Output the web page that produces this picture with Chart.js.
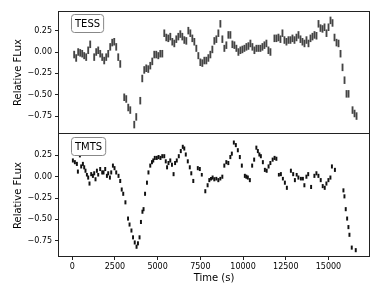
<!DOCTYPE html>
<html>
<head>
<meta charset="utf-8">
<script src="https://cdn.jsdelivr.net/npm/chart.js@4/dist/chart.umd.min.js"></script>
<style>
  html, body { margin: 0; padding: 0; background: #fff; }
  #wrap { width: 390px; height: 293px; }
</style>
</head>
<body>
<div id="wrap"><canvas id="lc" width="390" height="293"></canvas></div>
<script>
// TESS light curve (time in s, relative flux)
const tessTime = [
    117, 234, 352, 469, 586, 703, 820, 938, 1055,
    1289, 1406, 1524, 1641, 1758, 1875, 1992, 2110, 2227, 2344, 2461, 2578, 2696, 2813,
    3047, 3164, 3282, 3399, 3633, 3750,
    3985, 4102, 4219, 4336, 4454, 4571, 4688, 4805, 4922, 5040,
    5157, 5274, 5391, 5508, 5626, 5743, 5860, 5977, 6094, 6212,
    6329, 6446, 6563, 6680, 6798, 6915, 7032, 7149, 7266, 7384,
    7501, 7618, 7735, 7852, 7970, 8087, 8204, 8321, 8438, 8556,
    8673, 8790, 8907, 9024, 9142, 9259, 9376, 9493, 9610, 9728,
    9845, 9962, 10079, 10196, 10314, 10431, 10548, 10665, 10782, 10900,
    11017, 11134, 11251, 11368, 11486, 11603,
    11837, 11954, 12072, 12189, 12306, 12423, 12540, 12658, 12775, 12892,
    13009, 13126, 13244, 13361, 13478, 13595, 13712, 13830, 13947, 14064,
    14181, 14298, 14416, 14533, 14650, 14767, 14884, 15002, 15119, 15236,
    15353, 15470, 15588, 15705, 15822, 15939, 16056, 16174,
    16408, 16525, 16642
];
const tessFlux = [
    -0.03, -0.07, 0.00, -0.01, -0.02, -0.04, -0.06, 0.02, 0.09,
    -0.06, 0.00, 0.02, -0.02, -0.06, -0.10, -0.06, -0.02, 0.06, 0.11, 0.12, 0.06, -0.06, -0.14,
    -0.53, -0.55, -0.65, -0.68, -0.85, -0.76,
    -0.57, -0.31, -0.21, -0.19, -0.20, -0.16, -0.11, -0.03, -0.03, -0.04,
    -0.02, -0.02, 0.22, 0.17, 0.16, 0.18, 0.12, 0.10, 0.15, 0.18,
    0.21, 0.18, 0.14, 0.13, 0.25, 0.22, 0.16, 0.12, 0.04, -0.04,
    -0.12, -0.13, -0.10, -0.10, -0.07, -0.03, 0.03, 0.13, 0.15, 0.22,
    0.33, 0.15, 0.04, 0.08, 0.20, 0.20, 0.09, 0.08, 0.04, 0.00,
    0.02, 0.03, 0.04, 0.06, 0.07, 0.10, 0.06, 0.02, 0.04, 0.04,
    0.04, 0.06, 0.08, 0.10, 0.02, 0.00,
    0.16, 0.16, 0.17, 0.15, 0.22, 0.14, 0.12, 0.14, 0.14, 0.16,
    0.14, 0.17, 0.20, 0.15, 0.12, 0.10, 0.14, 0.10, 0.16, 0.18,
    0.20, 0.19, 0.33, 0.28, 0.27, 0.29, 0.22, 0.29, 0.37, 0.34,
    0.17, 0.11, 0.10, -0.02, -0.18, -0.33, -0.49, -0.49,
    -0.68, -0.72, -0.75
];
const tessErr = 0.04;

// TMTS light curve
const tmtsTime = [
    41, 158, 275, 334, 451, 527, 627, 703, 779, 861,
    937, 1013, 1113, 1213, 1289, 1365, 1447, 1523, 1640, 1757,
    1834, 1933, 2033, 2109, 2208, 2285, 2384, 2478, 2578, 2712,
    2812, 2900, 2988, 3116, 3269, 3357, 3468, 3562, 3661, 3767,
    3849, 3942, 4024, 4112, 4177, 4265, 4376, 4464, 4569, 4669,
    4745, 4833, 4950, 5055, 5167, 5272, 5389, 5477, 5553, 5635,
    5741, 5840, 5934, 6022, 6122, 6239, 6356, 6473, 6561, 6649,
    6766, 6883, 6971, 7088, 7352, 7469, 7586, 7791, 7926, 8025,
    8125, 8219, 8318, 8436, 8553, 8670, 8787, 8904, 9021, 9138,
    9256, 9344, 9461, 9578, 9695, 9812, 9929, 10105, 10193, 10281,
    10398, 10533, 10650, 10779, 10867, 10954, 11042, 11160, 11277, 11382,
    11494, 11599, 11733, 11845, 11950, 12097, 12214, 12331, 12448, 12565,
    12800, 12934, 13034, 13139, 13239, 13386, 13503, 13590, 13708, 13813,
    13983, 14176, 14294, 14411, 14546, 14663, 14780, 14879, 14996, 15113,
    15201, 15377, 15875, 15934, 16010, 16092, 16168, 16227, 16362, 16596
];
const tmtsFlux = [
    0.19, 0.17, 0.15, 0.06, 0.25, 0.12, 0.15, 0.11, 0.07, 0.02,
    -0.01, -0.08, 0.03, 0.01, 0.04, -0.03, 0.07, 0.02, 0.09, 0.05,
    0.05, 0.09, 0.01, 0.04, -0.01, 0.05, 0.13, 0.10, 0.05, 0.01,
    -0.05, -0.15, -0.20, -0.30, -0.49, -0.56, -0.63, -0.71, -0.77, -0.82,
    -0.78, -0.71, -0.53, -0.41, -0.38, -0.20, -0.07, 0.05, 0.13, 0.17,
    0.19, 0.22, 0.22, 0.23, 0.22, 0.24, 0.24, 0.18, 0.11, 0.16,
    0.19, 0.14, 0.03, 0.16, 0.19, 0.24, 0.30, 0.35, 0.33, 0.26,
    0.18, 0.11, 0.04, -0.05, 0.10, 0.09, 0.02, -0.17, -0.10, -0.04,
    -0.02, -0.01, -0.03, -0.02, -0.04, -0.02, 0.00, 0.13, 0.17, 0.16,
    0.23, 0.27, 0.40, 0.37, 0.31, 0.23, 0.13, 0.01, 0.00, -0.01,
    -0.04, 0.13, 0.20, 0.34, 0.30, 0.26, 0.24, 0.17, 0.08, 0.07,
    0.12, 0.16, 0.20, 0.22, 0.21, 0.02, 0.03, -0.02, -0.07, -0.13,
    0.07, 0.03, -0.04, 0.02, -0.01, -0.02, -0.02, -0.10, 0.00, 0.03,
    -0.12, 0.01, 0.04, 0.01, -0.04, -0.11, -0.13, -0.08, -0.04, -0.01,
    0.12, 0.08, -0.16, -0.23, -0.38, -0.49, -0.59, -0.68, -0.83, -0.86
];
const tmtsErr = 0.02;

const panelNames = ['TESS', 'TMTS'];
const xTicks = [0, 2500, 5000, 7500, 10000, 12500, 15000];
const yTicks = [-0.75, -0.5, -0.25, 0, 0.25];

const FONT = 'DejaVu Sans';

function toBars(times, fluxes, err) {
    return times.map((t, i) => ({ x: t, y: [fluxes[i] - err, fluxes[i] + err] }));
}

function fmtY(v) {
    return v.toFixed(2).replace('-', '\u2212');
}

function yScale(min, max) {
    return {
        type: 'linear',
        position: 'left',
        stack: 'lc',
        stackWeight: 1,
        min: min,
        max: max,
        afterBuildTicks: s => { s.ticks = yTicks.map(v => ({ value: v })); },
        afterFit: s => { s.width = 58; },
        border: { display: false },
        grid: { drawOnChartArea: false, drawTicks: true, tickLength: 3, color: '#222', offset: false },
        ticks: { font: { family: FONT, size: 8 }, color: '#000', padding: 3, callback: fmtY },
        title: { display: true, text: 'Relative FLux', font: { family: FONT, size: 10 }, color: '#000', padding: { top: 12, bottom: 0 } }
    };
}

// box around both panels, one divider, and the instrument tag in each corner
const panelFrame = {
    id: 'panelFrame',
    afterDatasetsDraw(chart) {
        const ctx = chart.ctx;
        const area = chart.chartArea;
        const l = Math.round(area.left) + 0.5;
        const r = Math.round(area.right) - 0.5;
        const t = Math.round(area.top) + 0.5;
        const b = Math.round(area.bottom) - 0.5;
        const mid = Math.round(chart.scales.yTop.bottom) - 0.5;
        ctx.save();
        ctx.strokeStyle = '#222';
        ctx.lineWidth = 1;
        ctx.strokeRect(l, t, r - l, b - t);
        ctx.beginPath();
        ctx.moveTo(l, mid);
        ctx.lineTo(r, mid);
        ctx.stroke();

        ['yTop', 'yBot'].forEach((id, i) => {
            const s = chart.scales[id];
            ctx.font = '10px "' + FONT + '"';
            const w = ctx.measureText(panelNames[i]).width + 7;
            const bx = Math.round(area.left + 12.5) + 0.5;
            const by = Math.round(s.top + 3) + 0.5;
            ctx.beginPath();
            ctx.roundRect(bx, by, w, 18, 3);
            ctx.fillStyle = '#fff';
            ctx.fill();
            ctx.strokeStyle = '#888';
            ctx.stroke();
            ctx.fillStyle = '#000';
            ctx.textBaseline = 'middle';
            ctx.fillText(panelNames[i], bx + 3.5, by + 9.5);
        });
        ctx.restore();
    }
};

const ctx = document.getElementById('lc').getContext('2d');

new Chart(ctx, {
    type: 'bar',
    data: {
        datasets: [{
            label: 'TESS',
            data: toBars(tessTime, tessFlux, tessErr),
            yAxisID: 'yTop',
            backgroundColor: '#444',
            borderWidth: 0,
            barThickness: 1.2,
            grouped: false
        }, {
            label: 'TMTS',
            data: toBars(tmtsTime, tmtsFlux, tmtsErr),
            yAxisID: 'yBot',
            backgroundColor: '#111',
            borderWidth: 0,
            barThickness: 1.3,
            grouped: false
        }]
    },
    options: {
        responsive: false,
        devicePixelRatio: 1,
        animation: false,
        layout: { padding: { left: 0, right: 20, top: 11, bottom: 0 } },
        plugins: {
            legend: { display: false },
            tooltip: { enabled: false }
        },
        scales: {
            x: {
                type: 'linear',
                min: -830,
                max: 17430,
                offset: false,
                afterBuildTicks: s => { s.ticks = xTicks.map(v => ({ value: v })); },
                afterFit: s => { s.height = 36; },
                border: { display: false },
                grid: { drawOnChartArea: false, drawTicks: true, tickLength: 3, color: '#222', offset: false },
                ticks: { font: { family: FONT, size: 8 }, color: '#000', padding: 2, maxRotation: 0, autoSkip: false, callback: v => String(v) },
                title: { display: true, text: 'Time (s)', font: { family: FONT, size: 10 }, color: '#000', padding: { top: 0, bottom: 9 } }
            },
            // stacked boxes are laid out bottom-up, so the lower panel comes first
            yBot: yScale(-0.94, 0.50),
            yTop: yScale(-0.96, 0.48)
        }
    },
    plugins: [panelFrame]
});
</script>
</body>
</html>
